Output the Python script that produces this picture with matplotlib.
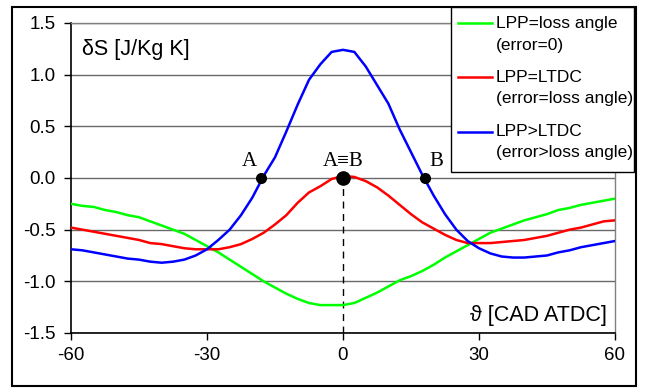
import matplotlib
matplotlib.use("Agg")
import matplotlib.pyplot as plt
from matplotlib.patches import Rectangle
from matplotlib.lines import Line2D

theta = [-60, -57.5, -55, -52.5, -50, -47.5, -45, -42.5, -40, -37.5, -35, -32.5, -30,
         -27.5, -25, -22.5, -20, -17.5, -15, -12.5, -10, -7.5, -5, -2.5, 0,
         2.5, 5, 7.5, 10, 12.5, 15, 17.5, 20, 22.5, 25, 27.5, 30,
         32.5, 35, 37.5, 40, 42.5, 45, 47.5, 50, 52.5, 55, 57.5, 60]

green = [-0.25, -0.27, -0.28, -0.31, -0.33, -0.36, -0.38, -0.42, -0.46, -0.50, -0.54, -0.60, -0.66,
         -0.72, -0.79, -0.86, -0.93, -1.00, -1.06, -1.12, -1.17, -1.21, -1.23, -1.23, -1.23,
         -1.21, -1.16, -1.11, -1.05, -0.99, -0.95, -0.90, -0.84, -0.77, -0.71, -0.65, -0.59,
         -0.53, -0.49, -0.45, -0.41, -0.38, -0.35, -0.31, -0.29, -0.26, -0.24, -0.22, -0.20]

red = [-0.48, -0.50, -0.52, -0.54, -0.56, -0.58, -0.60, -0.63, -0.64, -0.66, -0.68, -0.69, -0.69,
       -0.69, -0.67, -0.64, -0.59, -0.53, -0.45, -0.36, -0.24, -0.14, -0.08, -0.01, 0.02,
       0.01, -0.03, -0.09, -0.17, -0.26, -0.35, -0.43, -0.49, -0.55, -0.60, -0.63, -0.63,
       -0.63, -0.62, -0.61, -0.60, -0.58, -0.56, -0.53, -0.50, -0.48, -0.45, -0.42, -0.41]

blue = [-0.69, -0.70, -0.72, -0.74, -0.76, -0.78, -0.79, -0.81, -0.82, -0.81, -0.79, -0.75, -0.69,
        -0.60, -0.50, -0.36, -0.19, 0.02, 0.20, 0.45, 0.71, 0.95, 1.10, 1.22, 1.24,
        1.22, 1.08, 0.90, 0.72, 0.47, 0.25, 0.03, -0.17, -0.35, -0.50, -0.61, -0.68,
        -0.73, -0.76, -0.77, -0.77, -0.76, -0.75, -0.72, -0.70, -0.67, -0.65, -0.63, -0.61]

point_x = [-18, 18]
point_y = [0.0, 0.0]
center_x = [0]
center_y = [0.0]

labels = ["LPP=loss angle", "LPP=LTDC", "LPP>LTDC"]
sublabels = ["(error=0)", "(error=loss angle)", "(error>loss angle)"]
colors = ["#00FF00", "#FF0000", "#0000FF"]

xticks = [-60, -30, 0, 30, 60]
yticks = [-1.5, -1.0, -0.5, 0.0, 0.5, 1.0, 1.5]
yticklabels = ["-1.5", "-1.0", "-0.5", "0.0", "0.5", "1.0", "1.5"]

plt.rcParams['font.family'] = ['Liberation Sans', 'DejaVu Sans']

fig = plt.figure(figsize=(6.49, 3.88), dpi=100)
ax = fig.add_axes([0.1094, 0.1418, 0.8382, 0.7990])

ax.set_xlim(-60, 60)
ax.set_ylim(-1.5, 1.5)
ax.set_xticks(xticks)
ax.set_xticklabels([str(t) for t in xticks])
ax.set_yticks(yticks)
ax.set_yticklabels(yticklabels)
ax.tick_params(axis='both', labelsize=13.5, direction='out', length=5, width=1, color='black')
ax.tick_params(axis='y', pad=6)
ax.tick_params(axis='x', pad=5)
ax.grid(axis='y', color='#6a6a6a', lw=1)
ax.set_axisbelow(True)
for s in ['top', 'right']:
    ax.spines[s].set_color('#808080')
    ax.spines[s].set_linewidth(1)
for s in ['left', 'bottom']:
    ax.spines[s].set_color('black')
    ax.spines[s].set_linewidth(1.2)

series = [green, red, blue]
for ys, c in zip(series, colors):
    ax.plot(theta, ys, color=c, lw=1.8, zorder=3, solid_joinstyle='round')

ax.plot([0, 0], [-1.5, 0], color='black', lw=1, ls=(0, (5, 4)), zorder=2)
ax.plot(point_x, point_y, 'o', color='black', ms=7, zorder=5)
ax.plot(center_x, center_y, 'o', color='black', ms=9.5, zorder=5)

serif = ['Liberation Serif', 'DejaVu Serif']
ax.text(-20.6, 0.07, "A", family=serif, fontsize=15, ha='center', va='bottom')
ax.text(0, 0.07, "A\u2261B", family=serif, fontsize=15, ha='center', va='bottom')
ax.text(20.5, 0.07, "B", family=serif, fontsize=15, ha='center', va='bottom')

ax.text(-57.5, 1.24, "\u03b4S [J/Kg K]", fontsize=15.5, ha='left', va='center')
ax.text(58.3, -1.33, "\u03d1 [CAD ATDC]", fontsize=15.5, ha='right', va='center')

# outer frame
fig.add_artist(Rectangle((0.0185, 0.005), 0.9615, 0.977, transform=fig.transFigure,
                         fill=False, edgecolor='black', lw=1.5, zorder=0.5))

# legend
fig.add_artist(Rectangle((0.695, 0.557), 0.282, 0.425, transform=fig.transFigure,
                         facecolor='white', edgecolor='black', lw=1, zorder=4))
row1 = [0.9407, 0.8015, 0.6598]
row2 = [0.884, 0.745, 0.606]
for lab, sub, c, y1, y2 in zip(labels, sublabels, colors, row1, row2):
    fig.add_artist(Line2D([0.7057, 0.7581], [y1, y1], transform=fig.transFigure,
                          color=c, lw=1.8, zorder=5))
    fig.text(0.764, y1, lab, fontsize=12.5, ha='left', va='center', zorder=6)
    fig.text(0.764, y2, sub, fontsize=12.5, ha='left', va='center', zorder=6)

fig.savefig("out.png", dpi=100)
